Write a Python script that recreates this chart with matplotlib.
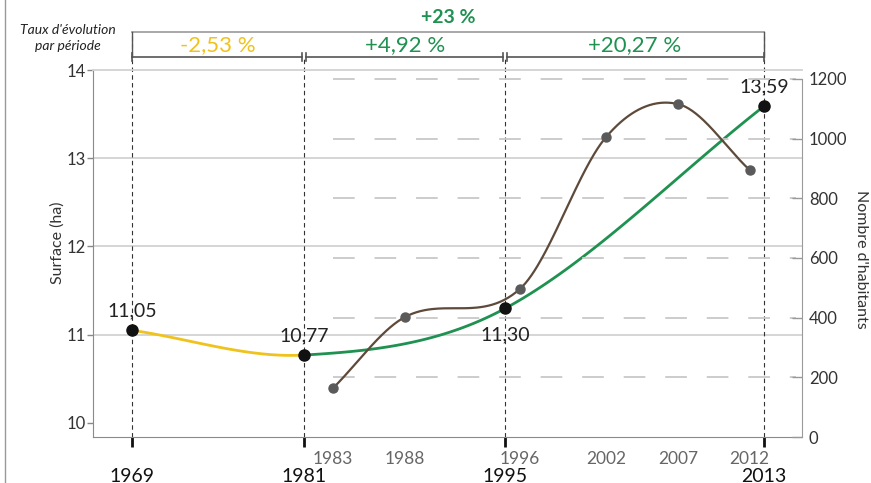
import numpy as np
import matplotlib
matplotlib.use("Agg")
import matplotlib.pyplot as plt
import matplotlib.transforms as mtransforms
from matplotlib.lines import Line2D

plt.rcParams['font.family'] = ['Lato', 'DejaVu Sans']

# surface (left axis)
years_surface = [1969, 1981, 1995, 2013]
surface = [11.05, 10.77, 11.30, 13.59]
surface_labels = ['11,05', '10,77', '11,30', '13,59']

# population (right axis)
years_pop = [1983, 1988, 1996, 2002, 2007, 2012]
population = [164, 402, 496, 1005, 1116, 895]

# evolution per period
period_labels = ['-2,53 %', '+4,92 %', '+20,27 %']
total_label = '+23 %'

YELLOW = '#f0c21c'
GREEN = '#1f9150'
BROWN = '#5e4a3a'


# smooth curve through the points (cubic hermite, catmull-rom tangents)
def smooth(xs, ys, n=60):
    xs = np.asarray(xs, float)
    ys = np.asarray(ys, float)
    m = np.zeros(len(xs))
    m[0] = (ys[1] - ys[0]) / (xs[1] - xs[0])
    m[-1] = (ys[-1] - ys[-2]) / (xs[-1] - xs[-2])
    for i in range(1, len(xs) - 1):
        m[i] = (ys[i + 1] - ys[i - 1]) / (xs[i + 1] - xs[i - 1])
    segs = []
    for i in range(len(xs) - 1):
        h = xs[i + 1] - xs[i]
        t = np.linspace(0, 1, n)
        h00 = 2 * t**3 - 3 * t**2 + 1
        h10 = t**3 - 2 * t**2 + t
        h01 = -2 * t**3 + 3 * t**2
        h11 = t**3 - t**2
        y = h00 * ys[i] + h10 * h * m[i] + h01 * ys[i + 1] + h11 * h * m[i + 1]
        segs.append((xs[i] + t * h, y))
    return segs


fig = plt.figure(figsize=(8.71, 4.83), dpi=100)
ax = fig.add_axes([93 / 871, 46 / 483, 709 / 871, 367 / 483])
ax2 = ax.twinx()

ax.set_xlim(1966.285, 2015.645)
ax.set_ylim(9.841, 14)
ax2.set_ylim(0, 1230)

# grids
for v in [11, 12, 13]:
    ax.axhline(v, color='#d2d2d2', lw=1.3, zorder=0)
ax2.hlines([200, 400, 600, 800, 1000, 1200], 1983, 2015.2, colors='#c8c8c8',
           lw=1.3, linestyles=(0, (12, 11)), zorder=0)

# surface curve
segs = smooth(years_surface, surface)
ax.plot(segs[0][0], segs[0][1], color=YELLOW, lw=2, zorder=3, solid_capstyle='round')
gx = np.concatenate([s[0] for s in segs[1:]])
gy = np.concatenate([s[1] for s in segs[1:]])
ax.plot(gx, gy, color=GREEN, lw=2, zorder=3, solid_capstyle='round')
ax.plot(years_surface, surface, 'o', color='#111111', ms=8, zorder=5)

# population curve
psegs = smooth(years_pop, population)
px = np.concatenate([s[0] for s in psegs])
py = np.concatenate([s[1] for s in psegs])
ax2.plot(px, py, color=BROWN, lw=1.6, zorder=3)
ax2.plot(years_pop, population, 'o', color='#5a5a5a', ms=6.5, zorder=4)

# value labels
offsets = [14, 14, -19, 14]
for x, y, lab, off in zip(years_surface, surface, surface_labels, offsets):
    ax.annotate(lab, (x, y), xytext=(0, off), textcoords='offset points',
                ha='center', va='center', fontsize=14, color='#222222', zorder=6)

# vertical dashed lines and brackets on top
trans = mtransforms.blended_transform_factory(ax.transData, ax.transAxes)
y_top = (437 - 32) / 367
y_br = (437 - 57) / 367
tick_h = 4 / 367
for yr in years_surface:
    top = y_top if yr in (years_surface[0], years_surface[-1]) else y_br
    ax.plot([yr, yr], [0, top], transform=trans, clip_on=False, color='#333333',
            lw=0.8, ls=(0, (4, 3)), zorder=2)
ax.plot([years_surface[0], years_surface[-1]], [y_top, y_top], transform=trans,
        clip_on=False, color='#9a9a9a', lw=1.2)
for yr in (years_surface[0], years_surface[-1]):
    ax.plot([yr, yr], [y_top, y_br], transform=trans, clip_on=False, color='#555555', lw=1)
gap = 0.14
for i in range(len(years_surface) - 1):
    a = years_surface[i] + (gap if i > 0 else 0)
    b = years_surface[i + 1] - (gap if i < len(years_surface) - 2 else 0)
    ax.plot([a, b], [y_br, y_br], transform=trans, clip_on=False, color='#555555', lw=1.2)
    for e in (a, b):
        ax.plot([e, e], [y_br - tick_h, y_br + tick_h], transform=trans, clip_on=False,
                color='#555555', lw=1.2)
    col = YELLOW if period_labels[i].startswith('-') else GREEN
    ax.text((years_surface[i] + years_surface[i + 1]) / 2, (437 - 45) / 367,
            period_labels[i], transform=trans, ha='center', va='center',
            fontsize=16, color=col)
ax.text((years_surface[0] + years_surface[-1]) / 2, (437 - 18) / 367, total_label,
        transform=trans, ha='center', va='center', fontsize=14,
        fontweight='bold', color=GREEN)

fig.text(68 / 871, 1 - 38 / 483, "Taux d'évolution\npar période", ha='center',
         va='center', fontsize=10, style='italic', color='#222222', linespacing=1.3)

# axes styling
ax.set_yticks([10, 11, 12, 13, 14])
ax.tick_params(axis='y', length=4, width=1, color='#888888', labelsize=12,
               labelcolor='#333333', pad=1.5)
ax.set_xticks(years_surface)
ax.set_xticklabels([str(y) for y in years_surface])
ax.tick_params(axis='x', length=7, width=2, color='#111111', labelsize=14,
               labelcolor='#111111', pad=15)
for s in ['left', 'bottom']:
    ax.spines[s].set_color('#8a8a8a')
ax.spines['top'].set_color('#d2d2d2')
ax.spines['top'].set_linewidth(1.3)
ax.spines['right'].set_visible(False)

ax2.set_yticks([0, 200, 400, 600, 800, 1000, 1200])
ax2.tick_params(axis='y', direction='in', length=7, width=1, color='#999999',
                labelsize=12, labelcolor='#333333', pad=5)
ax2.spines['right'].set_color('#9a9a9a')
ax2.spines['right'].set_bounds(0, 1200)
for s in ['left', 'top', 'bottom']:
    ax2.spines[s].set_visible(False)

# secondary year labels
for yr in years_pop:
    ax.text(yr, -14 / 367, str(yr), transform=trans, ha='center', va='top',
            fontsize=12.5, color='#666666')

fig.text(58 / 871, 1 - 243 / 483, 'Surface (ha)', rotation=90, ha='center',
         va='center', fontsize=11.5, color='#333333')
fig.text(861 / 871, 1 - 259 / 483, "Nombre d'habitants", rotation=-90, ha='center',
         va='center', fontsize=11.5, color='#333333')

fig.add_artist(Line2D([5 / 871, 5 / 871], [0, 1], color='#9a9a9a', lw=1))

fig.savefig('out.png', dpi=100)
